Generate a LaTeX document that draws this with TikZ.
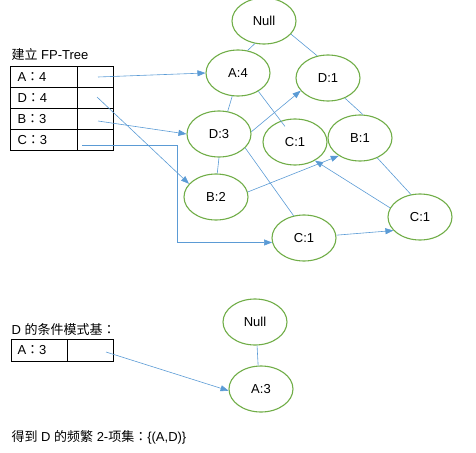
\documentclass[tikz,border=0pt]{standalone}
\usepackage{fontspec}
\setmainfont{Liberation Sans}
\newfontfamily\cjk{Noto Sans CJK SC}
\newfontfamily\cjkc{Noto Sans CJK JP}
\usetikzlibrary{shapes.geometric,arrows.meta}
\definecolor{treegreen}{HTML}{70AD47}
\definecolor{linkblue}{HTML}{5B9BD5}
\newcommand{\fcolon}{{\cjkc ：}}
\tikzset{every node/.style={font=\fontsize{13}{15}\selectfont},
	tnode/.style={draw=treegreen,line width=1.1pt,ellipse,minimum width=64pt,minimum height=46pt,inner sep=0pt},
	tedge/.style={draw=linkblue,line width=0.6pt},
	tlink/.style={draw=linkblue,line width=0.6pt,-{Triangle[length=8pt,width=6pt]}},
	tcell/.style={draw,line width=0.9pt}}

\begin{document}
\begin{tikzpicture}[x=1pt,y=-1pt]
			\useasboundingbox (0,0) rectangle (476,452);
			\node[anchor=west] (title) at (8,55) {{\cjk 建立} FP-Tree};
			\foreach \r in {0,1,2,3}{
				\draw[tcell] (10,66+21*\r) rectangle (77,87+21*\r);
				\draw[tcell] (77,66+21*\r) rectangle (113,87+21*\r);
			}
			\node[anchor=west] (ra) at (14,77) {A\fcolon4};
			\node[anchor=west] (rd) at (14,98) {D\fcolon4};
			\node[anchor=west] (rb) at (14,119) {B\fcolon3};
			\node[anchor=west] (rc) at (14,140) {C\fcolon3};
			\coordinate (pa) at (98,77);
			\coordinate (pd) at (97,97);
			\coordinate (pb) at (98,121);
			\coordinate (pc) at (82,145);
			\coordinate (cturn) at (177,145);
			\node[tnode] (null) at (264,21) {Null};
			\node[tnode] (a4) at (238,73) {A:4};
			\node[tnode] (d1) at (328,78) {D:1};
			\node[tnode] (d3) at (219,134) {D:3};
			\node[tnode] (cm) at (295,142) {C:1};
			\node[tnode] (b1) at (360,138) {B:1};
			\node[tnode] (b2) at (216,197) {B:2};
			\node[tnode] (cb) at (304,238) {C:1};
			\node[tnode] (cr) at (420,217) {C:1};
			\draw[tedge] (null.248)--(a4.67);
			\draw[tedge] (null.334)--(d1.116);
			\draw[tedge] (a4.256)--(d3.69);
			\draw[tedge,shorten >=-7pt] (a4.318)--(cm.124);
			\draw[tedge] (d1.310)--(b1.83);
			\draw[tedge] (d3.270)--(b2.87);
			\draw[tedge] (d3.332)--(cb.115);
			\draw[tedge] (b1.311)--(cr.112);
			\draw[tlink] (pa)--(a4.180);
			\draw[tlink] (pd)--(b2.154);
			\draw[tlink] (pb)--(d3.180);
			\draw[tlink] (pc)--(cturn)|-(cb.188);
			\draw[tlink] (d3.4)--(d1.205);
			\draw[tlink] (b2.9)--(b1.220);
			\draw[tlink] (cr.163)--(cm.317);
			\draw[tlink] (cb.5)--(cr.207);
			\node[anchor=west] (cond) at (8,330) {D {\cjk 的条件模式基}\fcolon};
			\draw[tcell] (11,339) rectangle (67,361);
			\draw[tcell] (67,339) rectangle (113,361);
			\node[anchor=west] (r2a) at (14,350) {A\fcolon3};
			\coordinate (p2a) at (106,352);
			\node[tnode] (null2) at (255,322) {Null};
			\node[tnode] (a3) at (261,389) {A:3};
			\draw[tedge] (null2.275)--(a3.97);
			\draw[tlink] (p2a)--(a3.183);
			\node[anchor=west] (result) at (8,437) {{\cjk 得到} D {\cjk 的频繁} 2-{\cjk 项集}\fcolon\{(A,D)\}};
		\end{tikzpicture}
\end{document}
